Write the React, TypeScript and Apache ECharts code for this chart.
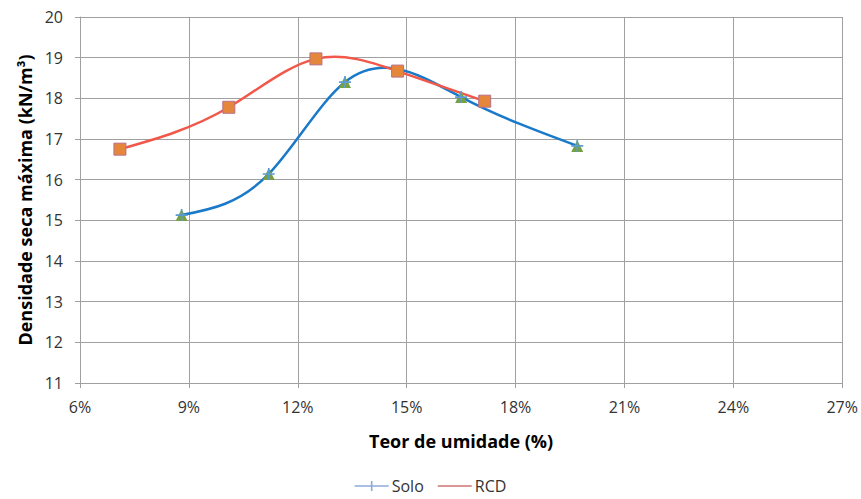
import React, { useEffect, useRef } from "react";
import * as echarts from "echarts";

const soloX = [8.8, 11.2, 13.3, 16.5, 19.7];
const soloY = [15.13, 16.14, 18.4, 18.03, 16.83];
const rcdX = [7.1, 10.1, 12.5, 14.75, 17.15];
const rcdY = [16.75, 17.78, 18.97, 18.67, 17.93];

const SOLO_LINE = "#1a7ac9";
const RCD_LINE = "#f1584a";

// second derivatives of a natural cubic spline through the points (rendering only)
function splineM(xs: number[], ys: number[]): number[] {
  const n = xs.length;
  const h = xs.slice(1).map((x, i) => x - xs[i]);
  const d = h.map((hh, i) => (ys[i + 1] - ys[i]) / hh);
  const a: number[] = [], b: number[] = [], c: number[] = [], r: number[] = [];
  for (let i = 1; i < n - 1; i++) {
    a.push(h[i - 1]);
    b.push(2 * (h[i - 1] + h[i]));
    c.push(h[i]);
    r.push(6 * (d[i] - d[i - 1]));
  }
  const m = r.length;
  for (let i = 1; i < m; i++) {
    const w = a[i] / b[i - 1];
    b[i] -= w * c[i - 1];
    r[i] -= w * r[i - 1];
  }
  const inner = new Array(m).fill(0);
  for (let i = m - 1; i >= 0; i--) {
    inner[i] = (r[i] - (i < m - 1 ? c[i] * inner[i + 1] : 0)) / b[i];
  }
  return [0, ...inner, 0];
}

function splineSeries(name: string, xs: number[], ys: number[], color: string) {
  const M = splineM(xs, ys);
  return {
    name,
    type: "custom",
    silent: true,
    z: 3,
    data: xs.map((x, i) => [x, ys[i]]),
    renderItem: (params: any, api: any) => {
      const i = params.dataIndex;
      if (i >= xs.length - 1) return null;
      const h = xs[i + 1] - xs[i];
      const d = (ys[i + 1] - ys[i]) / h;
      const s1 = d - (h * (2 * M[i] + M[i + 1])) / 6;
      const s2 = d + (h * (M[i] + 2 * M[i + 1])) / 6;
      const p1 = api.coord([xs[i], ys[i]]);
      const p2 = api.coord([xs[i + 1], ys[i + 1]]);
      const c1 = api.coord([xs[i] + h / 3, ys[i] + (s1 * h) / 3]);
      const c2 = api.coord([xs[i + 1] - h / 3, ys[i + 1] - (s2 * h) / 3]);
      return {
        type: "bezierCurve",
        shape: {
          x1: p1[0], y1: p1[1],
          cpx1: c1[0], cpy1: c1[1],
          cpx2: c2[0], cpy2: c2[1],
          x2: p2[0], y2: p2[1],
        },
        style: { stroke: color, lineWidth: 2.5, fill: null },
      };
    },
  };
}

export default function App() {
  const ref = useRef<HTMLDivElement>(null);
  useEffect(() => {
    const chart = echarts.init(ref.current!, null, { renderer: "svg" });
    const font = "'Open Sans', sans-serif";
    chart.setOption({
      animation: false,
      textStyle: { fontFamily: font },
      grid: { left: 80, right: 18, top: 17, bottom: 116 },
      xAxis: {
        type: "value",
        min: 6,
        max: 27,
        interval: 3,
        name: "Teor de umidade (%)",
        nameLocation: "middle",
        nameGap: 49,
        nameTextStyle: { fontSize: 18, fontWeight: "bold", color: "#000", fontFamily: font },
        axisLine: { lineStyle: { color: "#a0a0a0" } },
        axisTick: { show: true, length: 5, lineStyle: { color: "#a0a0a0" } },
        axisLabel: { formatter: (v: number) => v + "%", fontSize: 16, color: "#333", margin: 16 },
        splitLine: { lineStyle: { color: "#a0a0a0" } },
      },
      yAxis: {
        type: "value",
        min: 11,
        max: 20,
        interval: 1,
        name: "Densidade seca máxima (kN/m³)",
        nameLocation: "middle",
        nameGap: 45,
        nameTextStyle: { fontSize: 18, fontWeight: "bold", color: "#000", fontFamily: font },
        axisLine: { show: true, lineStyle: { color: "#a0a0a0" } },
        axisTick: { show: true, length: 5, lineStyle: { color: "#a0a0a0" } },
        axisLabel: { fontSize: 16, color: "#333", margin: 17 },
        splitLine: { lineStyle: { color: "#a0a0a0" } },
      },
      legend: {
        bottom: 0,
        left: "center",
        itemWidth: 34,
        itemHeight: 10,
        itemGap: 14,
        textStyle: { fontSize: 16, color: "#333", fontFamily: font, padding: [0, 0, 0, -2] },
        data: [
          {
            name: "Solo",
            icon: "path://M0,4.2H34V5.8H0Z M16.2,0H17.8V10H16.2Z",
            itemStyle: { color: "#8eaadb" },
          },
          {
            name: "RCD",
            icon: "path://M0,4H34V6H0Z",
            itemStyle: { color: "#d99694" },
          },
        ],
      },
      series: [
        splineSeries("Solo", soloX, soloY, SOLO_LINE),
        splineSeries("RCD", rcdX, rcdY, RCD_LINE),
        {
          name: "Solo",
          type: "scatter",
          symbol: "triangle",
          symbolSize: 12,
          z: 4,
          itemStyle: { color: "#77a043", opacity: 1 },
          data: soloX.map((x, i) => [x, soloY[i]]),
        },
        {
          name: "Solo",
          type: "scatter",
          symbol: "path://M4.3,0H5.7V10H4.3Z M0,4.3H10V5.7H0Z",
          symbolSize: 12,
          z: 5,
          itemStyle: { color: "#5b9bd5", opacity: 1 },
          data: soloX.map((x, i) => [x, soloY[i]]),
        },
        {
          name: "RCD",
          type: "scatter",
          symbol: "rect",
          symbolSize: 12,
          z: 4,
          itemStyle: { color: "#e5873a", borderColor: "#b86f8a", borderWidth: 1, opacity: 1 },
          data: rcdX.map((x, i) => [x, rcdY[i]]),
        },
      ],
    });
    return () => chart.dispose();
  }, []);
  return (
    <div
      ref={ref}
      style={{ position: "absolute", left: 0, top: 0, width: 861, height: 499 }}
    />
  );
}
